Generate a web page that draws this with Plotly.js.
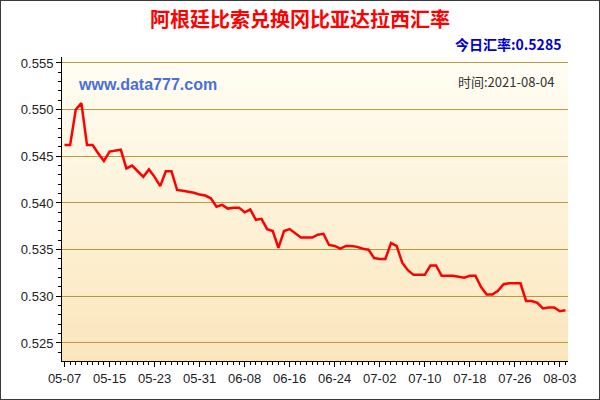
<!DOCTYPE html>
<html>
<head>
<meta charset="utf-8">
<script src="https://cdn.plot.ly/plotly-3.0.1.min.js"></script>
<style>
html,body{margin:0;padding:0;background:#fff;}
#chart{width:600px;height:400px;box-sizing:border-box;border:1px solid #3a3a3a;}
</style>
</head>
<body>
<div id="chart"></div>
<script>
// ---- data ----
const dates = [
 '2021-05-07','2021-05-08','2021-05-09','2021-05-10','2021-05-11','2021-05-12','2021-05-13','2021-05-14','2021-05-15','2021-05-16',
 '2021-05-17','2021-05-18','2021-05-19','2021-05-20','2021-05-21','2021-05-22','2021-05-23','2021-05-24','2021-05-25','2021-05-26',
 '2021-05-27','2021-05-28','2021-05-29','2021-05-30','2021-05-31','2021-06-01','2021-06-02','2021-06-03','2021-06-04','2021-06-05',
 '2021-06-06','2021-06-07','2021-06-08','2021-06-09','2021-06-10','2021-06-11','2021-06-12','2021-06-13','2021-06-14','2021-06-15',
 '2021-06-16','2021-06-17','2021-06-18','2021-06-19','2021-06-20','2021-06-21','2021-06-22','2021-06-23','2021-06-24','2021-06-25',
 '2021-06-26','2021-06-27','2021-06-28','2021-06-29','2021-06-30','2021-07-01','2021-07-02','2021-07-03','2021-07-04','2021-07-05',
 '2021-07-06','2021-07-07','2021-07-08','2021-07-09','2021-07-10','2021-07-11','2021-07-12','2021-07-13','2021-07-14','2021-07-15',
 '2021-07-16','2021-07-17','2021-07-18','2021-07-19','2021-07-20','2021-07-21','2021-07-22','2021-07-23','2021-07-24','2021-07-25',
 '2021-07-26','2021-07-27','2021-07-28','2021-07-29','2021-07-30','2021-07-31','2021-08-01','2021-08-02','2021-08-03','2021-08-04'
];
const rates = [
 0.5462,0.5462,0.5500,0.5507,0.5462,0.5462,0.5453,0.5445,0.5455,0.5456,
 0.5457,0.5437,0.5440,0.5434,0.5428,0.5436,0.5428,0.5418,0.5434,0.5434,
 0.5414,0.5413,0.5412,0.5411,0.5409,0.5408,0.5405,0.5396,0.5398,0.5394,
 0.5395,0.5395,0.5390,0.5393,0.5382,0.5383,0.5372,0.5370,0.5352,0.5370,
 0.5372,0.5367,0.5363,0.5363,0.5363,0.5366,0.5367,0.5355,0.5354,0.5351,
 0.5354,0.5354,0.5353,0.5351,0.5350,0.5341,0.5340,0.5340,0.5357,0.5354,
 0.5336,0.5328,0.5323,0.5323,0.5323,0.5333,0.5333,0.5322,0.5322,0.5322,
 0.5321,0.5320,0.5322,0.5322,0.5310,0.5302,0.5302,0.5306,0.5313,0.5314,
 0.5314,0.5314,0.5295,0.5295,0.5293,0.5287,0.5288,0.5288,0.5284,0.5285
];
const titleText = '阿根廷比索兑换冈比亚达拉西汇率';
const todayText = '今日汇率:0.5285';
const timeText = '时间:2021-08-04';
const siteText = 'www.data777.com';

// ---- style ----
const xRange = ['2021-05-06 13:20', '2021-08-04 10:40'];
const yRange = [0.52307, 0.55564];
const DAY = 86400000;

// gradient background bands (style only)
const bands = [];
const N = 40;
const c0 = [255, 254, 244], c1 = [251, 230, 188];
for (let k = 0; k < N; k++) {
  const t = k / (N - 1);
  const c = c0.map((v, j) => Math.round(v + (c1[j] - v) * t));
  bands.push({type:'rect', xref:'paper', yref:'paper', x0:0, x1:1,
    y1: 1 - k / N, y0: 1 - (k + 1) / N - 0.001,
    fillcolor:`rgb(${c[0]},${c[1]},${c[2]})`, line:{width:0}, layer:'below'});
}

const tickFont = {family:'Liberation Sans, Arial, sans-serif', size:13, color:'#222'};

const data = [{
  x: dates, y: rates, type:'scatter', mode:'lines',
  line:{color:'#ff0000', width:2.5}, hoverinfo:'x+y', showlegend:false
}];

const layout = {
  width: 598, height: 398,
  margin:{l:61, r:31, t:56, b:38},
  paper_bgcolor:'#ffffff', plot_bgcolor:'#fffdf0',
  shapes: bands,
  title:{text:titleText, x:0.5, xref:'container', y:0.952, yref:'container', yanchor:'middle', xanchor:'center',
    font:{family:'Noto Sans CJK SC, sans-serif', size:20, color:'#ff0000', weight:'bold'}},
  xaxis:{type:'date', range:xRange, tick0:'2021-05-07', dtick:8*DAY, tickformat:'%m-%d',
    ticks:'outside', ticklen:5, tickcolor:'#000', showline:true, linecolor:'#000', linewidth:1,
    showgrid:false, zeroline:false, tickfont:tickFont,
    minor:{dtick:DAY, ticks:'outside', ticklen:3, tickcolor:'#000', showgrid:false}},
  yaxis:{range:yRange, tick0:0.525, dtick:0.005, tickformat:'.3f',
    ticks:'outside', ticklen:5, tickcolor:'#000', showline:true, linecolor:'#000', linewidth:1,
    showgrid:true, gridcolor:'#b89a40', gridwidth:1, zeroline:false, tickfont:tickFont,
    minor:{dtick:0.001, ticks:'outside', ticklen:3, tickcolor:'#000', showgrid:false}},
  xaxis2:{type:'date', range:xRange, overlaying:'x', anchor:'y', tick0:'2021-05-07', dtick:8*DAY,
    ticks:'inside', ticklen:5, tickcolor:'#000', mirror:'ticks', showline:true, linecolor:'#000',
    showticklabels:false, showgrid:false, zeroline:false,
    minor:{dtick:DAY, ticks:'inside', ticklen:3, tickcolor:'#000', showgrid:false}},
  yaxis2:{range:yRange, overlaying:'y', anchor:'x', tick0:0.525, dtick:0.005,
    ticks:'inside', ticklen:5, tickcolor:'#000', mirror:'ticks', showline:true, linecolor:'#000',
    showticklabels:false, showgrid:false, zeroline:false,
    minor:{dtick:0.001, ticks:'inside', ticklen:3, tickcolor:'#000', showgrid:false}},
  annotations:[
    {text:todayText, xref:'paper', yref:'paper', x:0.990, y:1.0428, xanchor:'right', yanchor:'middle', showarrow:false,
      font:{family:'Noto Sans CJK SC, sans-serif', size:14, color:'#0000cc', weight:'bold'}},
    {text:siteText, xref:'paper', yref:'paper', x:0.0277, y:0.911, xanchor:'left', yanchor:'middle', showarrow:false,
      font:{family:'Liberation Sans, Arial, sans-serif', size:16, color:'#4a6fd8', weight:'bold'}},
    {text:timeText, xref:'paper', yref:'paper', x:0.976, y:0.921, xanchor:'right', yanchor:'middle', showarrow:false,
      font:{family:'Noto Sans CJK SC, sans-serif', size:13, color:'#333'}}
  ],
  hovermode:false
};

Plotly.newPlot('chart', data, layout, {displayModeBar:false, staticPlot:true});
</script>
</body>
</html>
